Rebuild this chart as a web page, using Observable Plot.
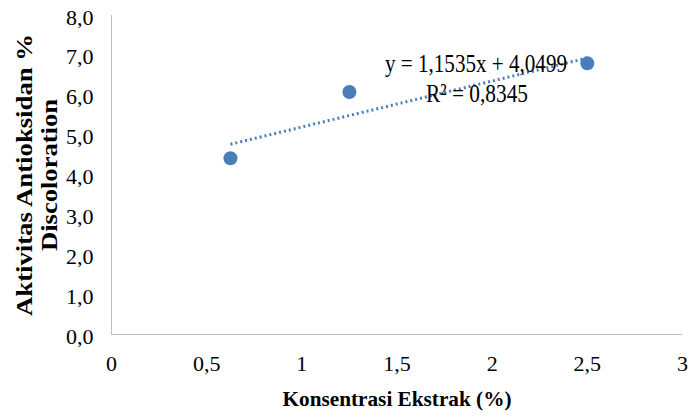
<!DOCTYPE html>
<html>
<head>
<meta charset="utf-8">
<script src="https://cdn.jsdelivr.net/npm/d3@7"></script>
<script src="https://cdn.jsdelivr.net/npm/@observablehq/plot@0.6"></script>
<style>
  html, body { margin: 0; padding: 0; background: #fff; }
</style>
</head>
<body>
<div id="chart"></div>
<script>
// Data
const konsentrasi = [0.625, 1.25, 2.5];
const aktivitas = [4.42, 6.08, 6.80];
const xTicks = [0, 0.5, 1, 1.5, 2, 2.5, 3];
const yTicks = [0, 1, 2, 3, 4, 5, 6, 7, 8];
// Trendline equation as printed in the chart
const slope = 1.1535;
const intercept = 4.0499;
const eqLabels = ["y = 1,1535x + 4,0499", "R² = 0,8345"];

const points = konsentrasi.map((x, i) => ({x, y: aktivitas[i]}));
const xExt = d3.extent(konsentrasi);
const trend = xExt.map(x => ({x, y: intercept + slope * x}));

const blue = "#4A7EBB";
const serif = "'Liberation Serif', 'Times New Roman', serif";
const fmt = d => d3.format(".1f")(d).replace(".", ",");
const fmtX = d => String(d).replace(".", ",");

const plot = Plot.plot({
  width: 700,
  height: 418,
  marginLeft: 111,
  marginRight: 18,
  marginTop: 15,
  marginBottom: 84,
  style: {fontFamily: serif, background: "#fff", color: "#000"},
  x: {domain: [0, 3]},
  y: {domain: [0, 8]},
  marks: [
    Plot.ruleY([0], {stroke: "#BFBFBF", strokeWidth: 1}),
    Plot.ruleX([0], {stroke: "#BFBFBF", strokeWidth: 1}),
    Plot.axisY({ticks: yTicks, tickFormat: fmt, tickSize: 0, tickPadding: 18, fontSize: 22, dy: 2, label: null}),
    Plot.axisX({ticks: xTicks, tickFormat: fmtX, tickSize: 0, tickPadding: 21, fontSize: 22, label: null}),
    Plot.line(trend, {x: "x", y: "y", stroke: blue, strokeWidth: 3, strokeDasharray: "2 3", strokeLinecap: "butt"}),
    Plot.dot(points, {x: "x", y: "y", r: 7, fill: blue, stroke: "none"}),
    Plot.text([eqLabels[0]], {frameAnchor: "top", dx: 79, dy: 38, fontSize: 26, fill: "#000", className: "eq"}),
    Plot.text([eqLabels[1]], {frameAnchor: "top", dx: 80, dy: 68, fontSize: 26, fill: "#000", className: "eq2"}),
    Plot.text(["Konsentrasi Ekstrak (%)"], {frameAnchor: "bottom", dy: 71, fontSize: 22, fontWeight: "bold", fill: "#000", className: "xt"}),
    Plot.text(["Aktivitas Antioksidan %"], {frameAnchor: "left", textAnchor: "middle", dx: -87, rotate: -90, fontSize: 23, fontWeight: "bold", fill: "#000", className: "yt1"}),
    Plot.text(["Discoloration"], {frameAnchor: "left", textAnchor: "middle", dx: -62, rotate: -90, fontSize: 23, fontWeight: "bold", fill: "#000", className: "yt2"})
  ]
});
// condense texts horizontally like the reference
const fit = (cls, len) => d3.select(plot).selectAll(`.${cls} text`).attr("textLength", len).attr("lengthAdjust", "spacingAndGlyphs");
fit("eq", 182);
fit("eq2", 102);
fit("xt", 229);
fit("yt1", 282);
fit("yt2", 152);
document.getElementById("chart").append(plot);
</script>
</body>
</html>
